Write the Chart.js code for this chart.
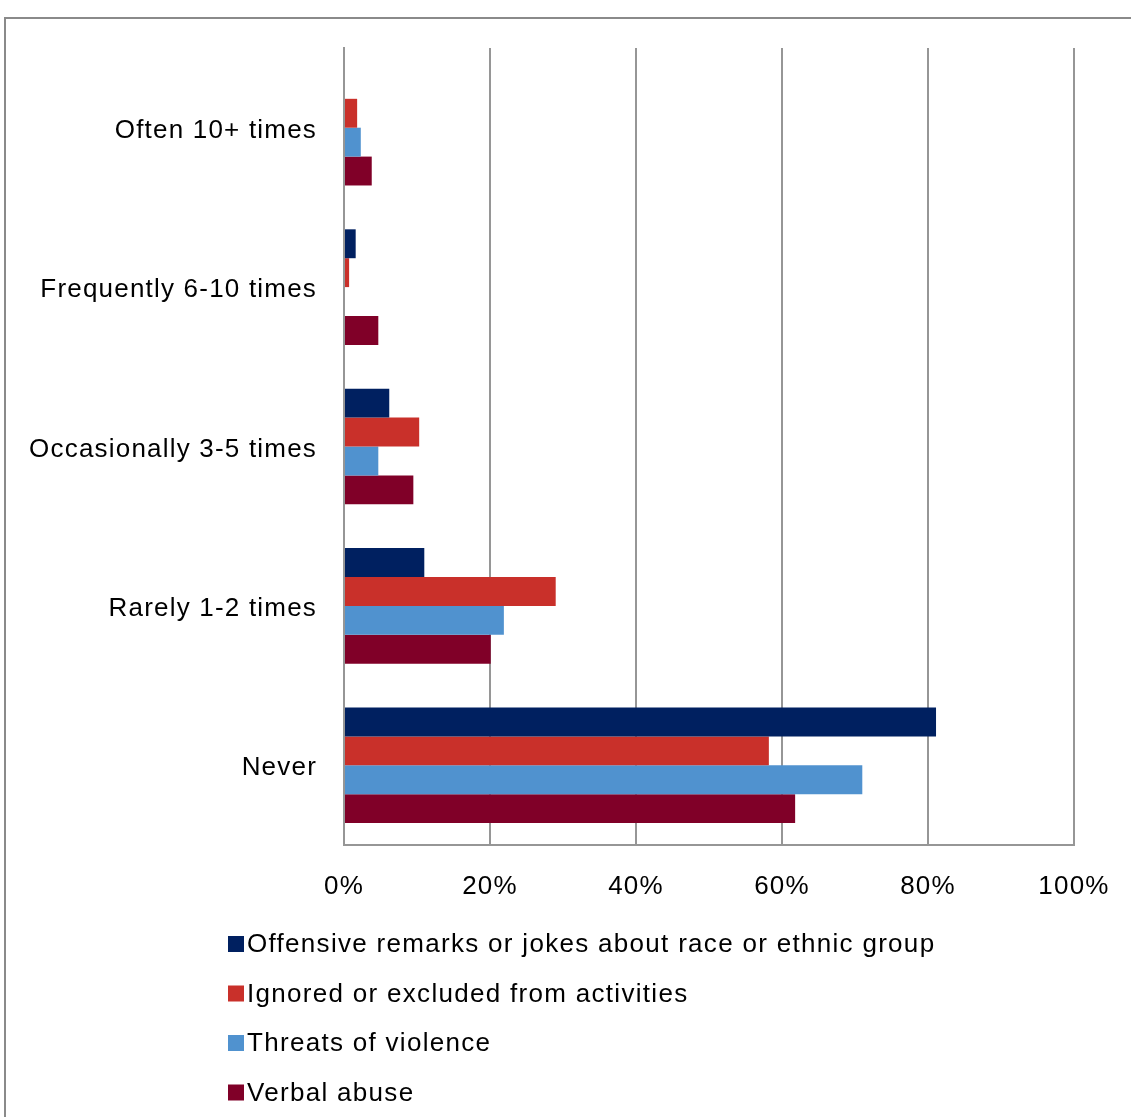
<!DOCTYPE html>
<html>
<head>
<meta charset="utf-8">
<title>Frequency of racist incidents</title>
<script src="https://cdn.jsdelivr.net/npm/chart.js@4.4.1/dist/chart.umd.min.js"></script>
<style>
    html, body { margin: 0; padding: 0; background: #ffffff; overflow: hidden; }
    #wrap { position: relative; width: 1131px; height: 1117px; }
</style>
</head>
<body>
<div id="wrap"><canvas id="chart" width="1131" height="1117"></canvas></div>
<script>
// Categories, top to bottom
const categories = ['Often 10+ times', 'Frequently 6-10 times', 'Occasionally 3-5 times', 'Rarely 1-2 times', 'Never'];

// Series names
const seriesNames = [
    'Offensive remarks or jokes about race or ethnic group',
    'Ignored or excluded from activities',
    'Threats of violence',
    'Verbal abuse'
];

// Percent of respondents per category
const offensive = [0, 1.6, 6.2, 11.0, 81.1];
const ignored = [1.8, 0.7, 10.3, 29.0, 58.2];
const threats = [2.3, 0, 4.7, 21.9, 71.0];
const verbal = [3.8, 4.7, 9.5, 20.1, 61.8];

// Axis ticks
const xTicks = [0, 20, 40, 60, 80, 100];

const colors = ['#002060', '#C9302A', '#5092CF', '#800028'];
const fontFamily = '"Liberation Sans", Arial, sans-serif';

// Loose letter spacing for all text (canvas resets it on resize, so set before drawing)
const spacing = {
    id: 'spacing',
    beforeUpdate(chart) { chart.ctx.letterSpacing = '1.2px'; },
    beforeDraw(chart) { chart.ctx.letterSpacing = '1.2px'; }
};

// Outer frame of the chart object
const framePlugin = {
    id: 'frame',
    beforeDraw(chart) {
        const ctx = chart.ctx;
        ctx.save();
        ctx.strokeStyle = '#8a8a8a';
        ctx.lineWidth = 2;
        ctx.beginPath();
        ctx.moveTo(5, chart.height + 5);
        ctx.lineTo(5, 18);
        ctx.lineTo(chart.width + 5, 18);
        ctx.stroke();
        ctx.restore();
    }
};

// Legend stacked in a single left aligned column under the axis
const columnLegend = {
    id: 'columnLegend',
    afterDraw(chart) {
        const ctx = chart.ctx;
        ctx.save();
        ctx.letterSpacing = '1.3px';
        ctx.font = '26px ' + fontFamily;
        ctx.textBaseline = 'middle';
        ctx.textAlign = 'left';
        chart.data.datasets.forEach((ds, i) => {
            const y = 944 + i * 49.5;
            ctx.fillStyle = ds.backgroundColor;
            ctx.fillRect(228, y - 8, 16, 16);
            ctx.fillStyle = '#000000';
            ctx.fillText(ds.label, 247, y + 1);
        });
        ctx.restore();
    }
};

const chart = new Chart(document.getElementById('chart'), {
    type: 'bar',
    data: {
        labels: categories,
        datasets: [offensive, ignored, threats, verbal].map((values, i) => ({
            label: seriesNames[i],
            data: values,
            backgroundColor: colors[i],
            borderWidth: 0,
            categoryPercentage: 0.725,
            barPercentage: 1
        }))
    },
    options: {
        indexAxis: 'y',
        responsive: false,
        animation: false,
        devicePixelRatio: 1,
        layout: {
            padding: { left: 0, right: 57, top: 48, bottom: 202 }
        },
        plugins: {
            legend: { display: false },
            tooltip: { enabled: false }
        },
        scales: {
            x: {
                min: 0,
                max: 100,
                afterBuildTicks(scale) {
                    scale.ticks = xTicks.map(v => ({ value: v }));
                },
                afterFit(scale) {
                    // fixed height; end labels may hang into the layout padding
                    scale.height = 70;
                    scale.paddingLeft = 0;
                    scale.paddingRight = 0;
                },
                grid: {
                    color: '#969696',
                    lineWidth: 2,
                    drawTicks: false
                },
                border: { color: '#969696', width: 2 },
                ticks: {
                    padding: 26,
                    color: '#000000',
                    font: { family: fontFamily, size: 26 },
                    callback: v => v + '%'
                }
            },
            y: {
                afterFit(scale) {
                    scale.width = 344;
                },
                grid: { display: false, drawTicks: false },
                border: { color: '#969696', width: 2 },
                ticks: {
                    padding: 27,
                    labelOffset: 3,
                    color: '#000000',
                    font: { family: fontFamily, size: 26 }
                }
            }
        }
    },
    plugins: [spacing, framePlugin, columnLegend]
});
</script>
</body>
</html>
